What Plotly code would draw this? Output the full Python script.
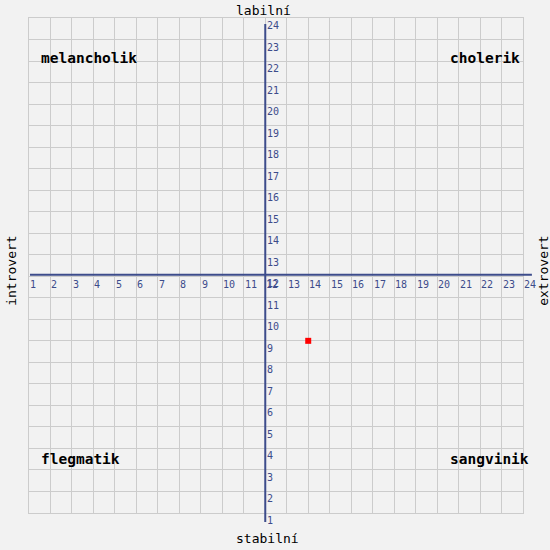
import plotly.graph_objects as go

# ---- data ----
x_ticks = list(range(1, 25))
y_ticks = list(range(1, 25))
axis_cross_x = 12
axis_cross_y = 12
point_x = [14]
point_y = [9]
quadrant_labels = ["melancholik", "cholerik", "flegmatik", "sangvinik"]
title_top = "labilní"
title_bottom = "stabilní"
title_left = "introvert"
title_right = "extrovert"

# ---- style ----
BG = "#f2f2f2"
GRID = "#cccccc"
AXIS = "#3d4c8b"
MONO = "DejaVu Sans Mono"

xmin, xmax = x_ticks[0], x_ticks[-1]
ymin, ymax = y_ticks[0], y_ticks[-1]


def px(v):
    return (v - xmin) / (xmax - xmin)


def py(v):
    return (v - ymin) / (ymax - ymin)


fig = go.Figure()
fig.add_trace(go.Scatter(
    x=point_x, y=point_y, mode="markers",
    marker=dict(symbol="square", size=6, color="#ff0000", line=dict(width=0)),
    hoverinfo="skip", showlegend=False, cliponaxis=False,
))

annotations = []
# x tick labels (right of each grid line, below the horizontal axis)
for v in x_ticks:
    annotations.append(dict(
        x=v, y=axis_cross_y, xref="x", yref="y", text=str(v), showarrow=False,
        xanchor="left", yanchor="top", xshift=-1, yshift=-1,
        font=dict(family=MONO, size=10, color=AXIS),
    ))
# y tick labels (right of vertical axis, below each grid line)
for v in y_ticks:
    annotations.append(dict(
        x=axis_cross_x, y=v, xref="x", yref="y", text=str(v), showarrow=False,
        xanchor="left", yanchor="top", xshift=0, yshift=0,
        font=dict(family=MONO, size=10, color=AXIS),
    ))

qfont = dict(family=MONO, size=14.5, color="#000000", weight="bold")
q_pos = [(0.020, 0.919), (0.848, 0.919), (0.020, 0.110), (0.848, 0.110)]
for txt, (qx, qy) in zip(quadrant_labels, q_pos):
    annotations.append(dict(
        x=qx, y=qy, xref="paper", yref="paper", text=txt, showarrow=False,
        xanchor="left", yanchor="middle", font=qfont,
    ))

tfont = dict(family=MONO, size=13, color="#000000")
annotations += [
    dict(x=0.414, y=1.0, xref="paper", yref="paper", text=title_top,
         showarrow=False, xanchor="left", yanchor="bottom", yshift=-2, font=tfont),
    dict(x=0.414, y=0.0, xref="paper", yref="paper", text=title_bottom,
         showarrow=False, xanchor="left", yanchor="top", yshift=-16, font=tfont),
    dict(x=0.0, y=py(axis_cross_y) + 0.01, xref="paper", yref="paper", text=title_left,
         showarrow=False, xanchor="right", yanchor="middle", textangle=-90,
         xshift=-8, font=tfont),
    dict(x=1.0, y=py(axis_cross_y) + 0.01, xref="paper", yref="paper", text=title_right,
         showarrow=False, xanchor="left", yanchor="middle", textangle=-90,
         xshift=11, font=tfont),
]

shapes = [
    # horizontal axis line
    dict(type="line", xref="paper", yref="paper",
         x0=0.002, x1=1.018, y0=py(axis_cross_y) + 0.003, y1=py(axis_cross_y) + 0.003,
         line=dict(color=AXIS, width=2)),
    # vertical axis line
    dict(type="line", xref="paper", yref="paper",
         x0=px(axis_cross_x), x1=px(axis_cross_x), y0=-0.018, y1=0.988,
         line=dict(color=AXIS, width=2)),
]

axis_common = dict(
    showgrid=True, gridcolor=GRID, gridwidth=1, dtick=1, tick0=1,
    showticklabels=False, zeroline=False, ticks="",
    showline=True, linecolor=GRID, linewidth=1, mirror=True, fixedrange=True,
)

fig.update_layout(
    width=550, height=550,
    margin=dict(l=29, r=27, t=18, b=37, pad=0),
    paper_bgcolor=BG, plot_bgcolor=BG,
    xaxis=dict(range=[xmin, xmax], **axis_common),
    yaxis=dict(range=[ymin, ymax], **axis_common),
    annotations=annotations, shapes=shapes,
    showlegend=False,
)

fig.write_html(
    "out.html",
    config={"displayModeBar": False},
    post_script="document.body.style.margin='0';document.body.style.overflow='hidden';",
)
